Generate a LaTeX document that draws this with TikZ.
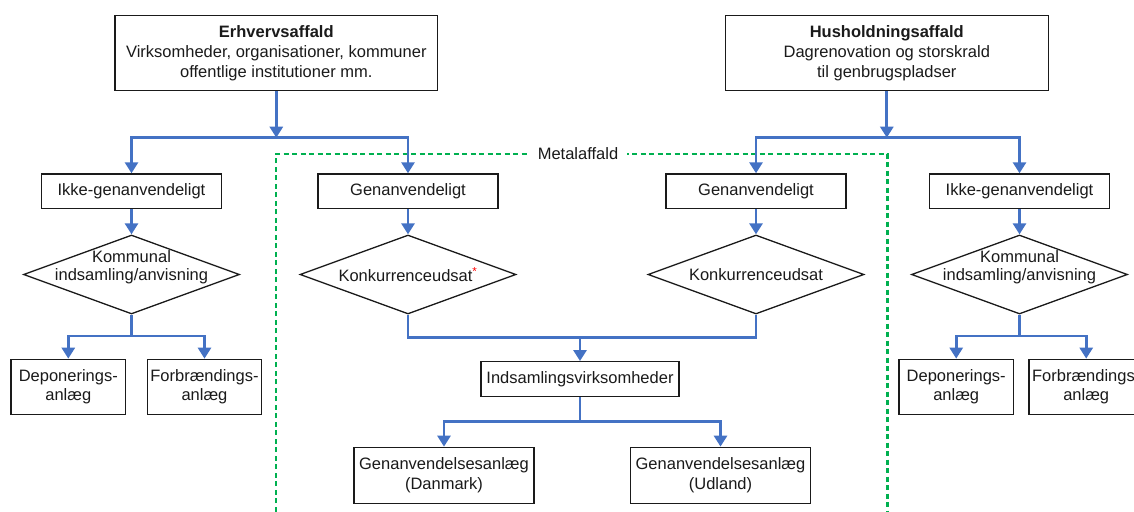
\documentclass[tikz,border=0pt]{standalone}
\usepackage{fontspec}
\setmainfont{Liberation Sans}
\usetikzlibrary{arrows.meta,shapes.geometric}
\definecolor{flowblue}{HTML}{4472C4}
\definecolor{metalgreen}{HTML}{00B050}
\definecolor{inkgray}{HTML}{1A1A1A}
\begin{document}
\begin{tikzpicture}[x=1pt,y=-1pt,
  every node/.style={font=\fontsize{16.5}{19.8}\selectfont, text=inkgray, inner sep=0pt},
  box/.style={draw=inkgray, line width=1.3pt, fill=white, rectangle, align=center},
  choice/.style={draw=inkgray, line width=1.3pt, fill=white, diamond,
    minimum width=216pt, minimum height=79pt},
  choicetext/.style={align=center, font=\fontsize{16.5}{17.7}\selectfont},
  flow/.style={draw=flowblue, line width=2.8pt, line join=miter},
  tip/.style={-{Triangle[width=13pt,length=11pt]}},
  frame/.style={draw=metalgreen, line width=2.4pt, dash pattern=on 5pt off 3.5pt},
]
\useasboundingbox (0,0) rectangle (1134,511);
\clip (0,0) rectangle (1134,511);

% metal waste frame (open at the bottom)
\draw[frame] (275.7,520) -- (275.7,154) -- (887.5,154) -- (887.5,520);
\node[fill=white, inner xsep=9pt, inner ysep=2pt] (metal) at (578,153.5) {Metalaffald};

% sources
\node[box, minimum width=322.7pt, minimum height=75pt] (erh) at (276.3,53.2)
  {\textbf{Erhvervsaffald}\\Virksomheder, organisationer, kommuner\\offentlige institutioner mm.};
\node[box, minimum width=323pt, minimum height=75pt] (hus) at (886.8,53.2)
  {\raisebox{-2pt}{\textbf{Husholdningsaffald}}\\\raisebox{-2pt}{Dagrenovation og storskrald}\\\raisebox{-2pt}{til genbrugspladser}};

% fractions
\node[box, minimum width=180pt, minimum height=34.5pt] (ikkeL) at (131.5,191.2) {Ikke-genanvendeligt};
\node[box, minimum width=180pt, minimum height=34.5pt] (genL)  at (408,191.2) {Genanvendeligt};
\node[box, minimum width=180pt, minimum height=34.5pt] (genR)  at (756,191.2) {Genanvendeligt};
\node[box, minimum width=180pt, minimum height=34.5pt] (ikkeR) at (1019.5,191.2) {Ikke-genanvendeligt};

% decisions
\node[choice] (kommL) at (131.5,274.5) {};
\node[choicetext] (kommLtxt) at (131.5,267.5) {Kommunal\\indsamling/anvisning};
\node[choice] (konkL) at (408,274.5) {};
\node[choicetext] (konkLtxt) at (408,274.5) {Konkurrenceudsat\textsuperscript{\textcolor{red}{*}}};
\node[choice] (konkR) at (756,274.5) {};
\node[choicetext] (konkRtxt) at (756,274.5) {Konkurrenceudsat};
\node[choice] (kommR) at (1019.5,274.5) {};
\node[choicetext] (kommRtxt) at (1019.5,267.5) {Kommunal\\indsamling/anvisning};

% treatment plants
\node[box, minimum width=114.7pt, minimum height=55pt] (depL) at (68.3,386.8) {Deponerings-\\anlæg};
\node[box, minimum width=114.4pt, minimum height=55pt] (forL) at (204.5,386.8) {Forbrændings-\\anlæg};
\node[box, minimum width=114.4pt, minimum height=55pt] (depR) at (956.2,386.8) {Deponerings-\\anlæg};
\node[box, minimum width=114.4pt, minimum height=55pt] (forR) at (1086.2,386.8) {Forbrændings-\\anlæg};

\node[box, minimum width=198pt, minimum height=35pt] (inds) at (580,379.2) {Indsamlingsvirksomheder};
\node[box, minimum width=180pt, minimum height=56pt] (dk) at (444,475.3) {Genanvendelsesanlæg\\(Danmark)};
\node[box, minimum width=180pt, minimum height=56pt] (ud) at (720.5,475.3) {Genanvendelsesanlæg\\(Udland)};

% junction points
\coordinate (erhJ) at (276.3,137.7);
\coordinate (husJ) at (886.8,137.7);
\coordinate (kommLJ) at (131.5,336);
\coordinate (kommRJ) at (1019.5,336);
\coordinate (konkJ) at (580,337.7);
\coordinate (indsJ) at (580,421.7);

% connectors
\draw[flow,tip] (erh.south) -- (erhJ);
\draw[flow,tip] (erhJ) -| (ikkeL.north);
\draw[flow,tip] (erhJ) -| (genL.north);
\draw[flow,tip] (hus.south) -- (husJ);
\draw[flow,tip] (husJ) -| (genR.north);
\draw[flow,tip] (husJ) -| (ikkeR.north);

\draw[flow,tip] (ikkeL.south) -- (kommL.north);
\draw[flow,tip] (genL.south) -- (konkL.north);
\draw[flow,tip] (genR.south) -- (konkR.north);
\draw[flow,tip] (ikkeR.south) -- (kommR.north);

\draw[flow] (kommL.south) -- (kommLJ);
\draw[flow,tip] (kommLJ) -| (depL.north);
\draw[flow,tip] (kommLJ) -| (forL.north);
\draw[flow] (kommR.south) -- (kommRJ);
\draw[flow,tip] (kommRJ) -| (depR.north);
\draw[flow,tip] (kommRJ) -| (forR.north);

\draw[flow] (konkL.south) |- (konkJ);
\draw[flow] (konkR.south) |- (konkJ);
\draw[flow,tip] (konkJ) -- (inds.north);
\draw[flow] (inds.south) -- (indsJ);
\draw[flow,tip] (indsJ) -| (dk.north);
\draw[flow,tip] (indsJ) -| (ud.north);
\end{tikzpicture}
\end{document}
